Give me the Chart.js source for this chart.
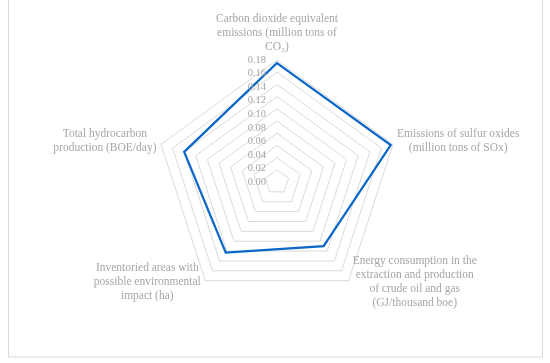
<!DOCTYPE html>
<html>
<head>
<meta charset="utf-8">
<script src="https://cdn.jsdelivr.net/npm/chart.js@4"></script>
<style>
  html, body { margin: 0; padding: 0; background: #fff; }
  #wrap { width: 550px; height: 363px; }
</style>
</head>
<body>
<div id="wrap"><canvas id="chart" width="550" height="363"></canvas></div>
<script>
const categories = [
    ['Carbon dioxide equivalent', 'emissions (million tons of', 'CO₂)'],
    ['Emissions of sulfur oxides', '(million tons of SOx)'],
    ['Energy consumption in the', 'extraction and production', 'of crude oil and gas', '(GJ/thousand boe)'],
    ['Inventoried areas with', 'possible environmental', 'impact (ha)'],
    ['Total hydrocarbon', 'production (BOE/day)']
];
const values = [0.175, 0.176, 0.110, 0.123, 0.140];
const tickLabels = ['0.00', '0.02', '0.04', '0.06', '0.08', '0.10', '0.12', '0.14', '0.16', '0.18'];

const textColor = '#a6a6a6';
const serif = '"Liberation Serif", "Times New Roman", serif';

// outer frame, its top edge sits above the picture
const frame = {
    id: 'frame',
    beforeDraw(chart) {
        const ctx = chart.ctx;
        ctx.save();
        ctx.strokeStyle = '#d9d9d9';
        ctx.lineWidth = 1;
        ctx.strokeRect(8.5, -5, 534, 362);
        ctx.restore();
    }
};

// excel-like tick labels and centred multi-line category labels
const labels = {
    id: 'labels',
    afterDraw(chart) {
        const ctx = chart.ctx;
        const r = chart.scales.r;
        ctx.save();
        ctx.fillStyle = textColor;
        ctx.textBaseline = 'middle';

        ctx.font = '10.5px ' + serif;
        ctx.textAlign = 'right';
        tickLabels.forEach(t => {
            const v = parseFloat(t);
            ctx.fillText(t, r.xCenter - 11, r.yCenter - r.drawingArea * v / r.max);
        });

        ctx.font = '11.5px ' + serif;
        ctx.textAlign = 'center';
        const lh = 14;
        categories.forEach((lines, i) => {
            const p = r.getPointPositionForValue(i, r.max);
            const w = Math.max(...lines.map(l => ctx.measureText(l).width));
            let cx, top;
            if (i === 0) {
                cx = p.x;
                top = p.y - 13.5 - (lines.length - 1) * lh;
            } else {
                const dy = p.y > r.yCenter ? 1 : -3;
                top = p.y + dy - (lines.length - 1) * lh / 2;
                cx = p.x > r.xCenter ? p.x + 4 + w / 2 : p.x - 4.5 - w / 2;
            }
            lines.forEach((l, j) => ctx.fillText(l, cx, top + j * lh));
        });
        ctx.restore();
    }
};

new Chart(document.getElementById('chart'), {
    type: 'radar',
    data: {
        labels: categories,
        datasets: [{
            data: values,
            borderColor: '#0a66c8',
            borderWidth: 2.25,
            fill: false,
            pointRadius: 0,
            pointHoverRadius: 0,
            tension: 0
        }]
    },
    options: {
        responsive: false,
        animation: false,
        devicePixelRatio: 1,
        layout: {
            padding: { top: 60, bottom: 58, left: 27, right: 23 }
        },
        plugins: {
            legend: { display: false },
            tooltip: { enabled: false }
        },
        scales: {
            r: {
                min: -0.02,
                max: 0.18,
                beginAtZero: false,
                ticks: { stepSize: 0.02, display: false },
                grid: { color: '#d9d9d9', lineWidth: 1 },
                angleLines: { display: false },
                pointLabels: { display: false }
            }
        }
    },
    plugins: [frame, labels]
});
</script>
</body>
</html>
